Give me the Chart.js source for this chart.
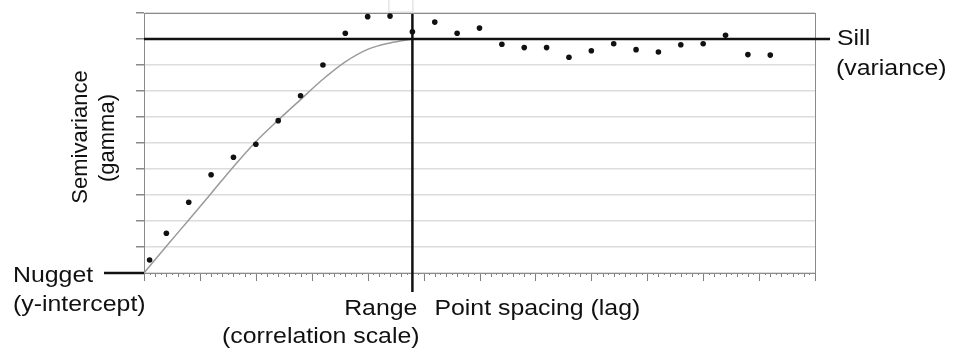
<!DOCTYPE html>
<html>
<head>
<meta charset="utf-8">
<script src="https://cdn.jsdelivr.net/npm/chart.js@4"></script>
<style>
  body { margin: 0; background: #fff; }
  #wrap { width: 954px; height: 358px; }
</style>
</head>
<body>
<div id="wrap"><canvas id="vario" width="954" height="358"></canvas></div>
<script>
// lag values of the sample points and their semivariance
const lags = [0.5, 2, 4, 6, 8, 10, 12, 14, 16, 18, 20, 22, 24, 26, 28, 30, 32, 34, 36, 38, 40, 42, 44, 46, 48, 50, 52, 54, 56];
const gammas = [0.5, 1.53, 2.72, 3.78, 4.45, 4.95, 5.86, 6.82, 8.0, 9.22, 9.86, 9.88, 9.28, 9.65, 9.22, 9.42,
                8.8, 8.67, 8.67, 8.3, 8.55, 8.82, 8.59, 8.5, 8.78, 8.82, 9.14, 8.4, 8.38];

// fitted model curve
const modelLags = [0, 2, 4, 6, 8, 10, 12, 14, 16, 18, 20, 22, 24];
const modelGammas = [0, 1.03, 2.04, 3.06, 4.09, 5.05, 5.88, 6.67, 7.45, 8.12, 8.6, 8.85, 9.0];

const nugget = 0;
const sill = 9;
const range = 24;

const xMax = 60;
const yMax = 10;

const FONT = '22px "Liberation Sans", Arial, sans-serif';
const STRETCH = 1.13;

function label(ctx, text, x, y, align) {
    ctx.save();
    ctx.font = FONT;
    ctx.fillStyle = '#111';
    ctx.textBaseline = 'alphabetic';
    let w = ctx.measureText(text).width * STRETCH;
    let left = align === 'right' ? x - w : x;
    ctx.translate(left, y);
    ctx.scale(STRETCH, 1);
    ctx.textAlign = 'left';
    ctx.fillText(text, 0, 0);
    ctx.restore();
}

function vlabel(ctx, text, x, cy) {
    ctx.save();
    ctx.font = FONT;
    ctx.fillStyle = '#111';
    ctx.translate(x, cy);
    ctx.rotate(-Math.PI / 2);
    ctx.textAlign = 'center';
    ctx.fillText(text, 0, 0);
    ctx.restore();
}

const guides = {
    id: 'guides',
    beforeDatasetsDraw(chart) {
        const ctx = chart.ctx;
        const xs = chart.scales.x;
        const a = chart.chartArea;

        // little x-axis ticks
        ctx.save();
        ctx.strokeStyle = '#808080';
        ctx.lineWidth = 1;
        for (let i = 0; i <= xMax * 2; i++) {
            const v = i / 2;
            const px = Math.round(xs.getPixelForValue(v)) + 0.5;
            let len = 2;
            if (i % 10 === 0) len = 8;
            else if (i % 2 === 0) len = 4;
            ctx.beginPath();
            ctx.moveTo(px, a.bottom);
            ctx.lineTo(px, a.bottom + len);
            ctx.stroke();
        }
        // frame
        ctx.strokeStyle = '#8a8a8a';
        ctx.strokeRect(Math.round(a.left) + 0.5, Math.round(a.top) + 0.5, Math.round(a.right - a.left), Math.round(a.bottom - a.top));
        // faint box above the range line
        ctx.strokeStyle = '#d8d8d8';
        const rx = xs.getPixelForValue(range);
        ctx.strokeRect(rx - 23.5, -1, 24, a.top);
        ctx.restore();
    },
    afterDatasetsDraw(chart) {
        const ctx = chart.ctx;
        const xs = chart.scales.x;
        const ys = chart.scales.y;
        const a = chart.chartArea;
        const sy = ys.getPixelForValue(sill);
        const rx = xs.getPixelForValue(range);
        const ny = ys.getPixelForValue(nugget);

        ctx.save();
        ctx.strokeStyle = '#111';
        ctx.lineWidth = 2.5;
        ctx.beginPath();
        ctx.moveTo(a.left, sy);
        ctx.lineTo(a.right + 15, sy);
        ctx.stroke();

        ctx.beginPath();
        ctx.moveTo(rx, a.top + 1);
        ctx.lineTo(rx, a.bottom + 19);
        ctx.stroke();

        ctx.beginPath();
        ctx.moveTo(a.left - 40, ny);
        ctx.lineTo(a.left, ny);
        ctx.stroke();
        ctx.restore();

        label(ctx, 'Sill', a.right + 22, sy + 6);
        label(ctx, '(variance)', a.right + 21, sy + 36);
        label(ctx, 'Nugget', 13, ny + 9);
        label(ctx, '(y-intercept)', 13, ny + 38);
        label(ctx, 'Range', rx + 5, a.bottom + 42, 'right');
        label(ctx, 'Point spacing (lag)', rx + 22, a.bottom + 42);
        label(ctx, '(correlation scale)', 222, a.bottom + 70);
        vlabel(ctx, 'Semivariance', 87, 137);
        vlabel(ctx, '(gamma)', 114, 138);
    }
};

const ctx = document.getElementById('vario').getContext('2d');
const chart = new Chart(ctx, {
    type: 'scatter',
    data: {
        datasets: [{
            label: 'Sample',
            data: lags.map((l, i) => ({ x: l, y: gammas[i] })),
            pointRadius: 2.8,
            pointBackgroundColor: '#111',
            pointBorderWidth: 0,
            showLine: false
        }, {
            label: 'Model',
            type: 'line',
            data: modelLags.map((l, i) => ({ x: l, y: modelGammas[i] })),
            borderColor: '#9a9a9a',
            borderWidth: 1.5,
            pointRadius: 0,
            tension: 0.4,
            cubicInterpolationMode: 'monotone',
            fill: false
        }]
    },
    options: {
        responsive: false,
        animation: false,
        events: [],
        layout: { padding: { left: 136, right: 139, top: 13, bottom: 85 } },
        plugins: { legend: { display: false }, tooltip: { enabled: false } },
        scales: {
            x: {
                type: 'linear',
                min: 0,
                max: xMax,
                ticks: { display: false },
                grid: { display: false, drawTicks: false },
                border: { color: '#8a8a8a' }
            },
            y: {
                min: 0,
                max: yMax,
                ticks: { display: false, stepSize: 1 },
                grid: {
                    color: '#dcdcdc',
                    lineWidth: 1.5,
                    drawTicks: true,
                    tickLength: 8,
                    tickColor: '#8a8a8a'
                },
                border: { color: '#8a8a8a' }
            }
        }
    },
    plugins: [guides]
});
</script>
</body>
</html>
